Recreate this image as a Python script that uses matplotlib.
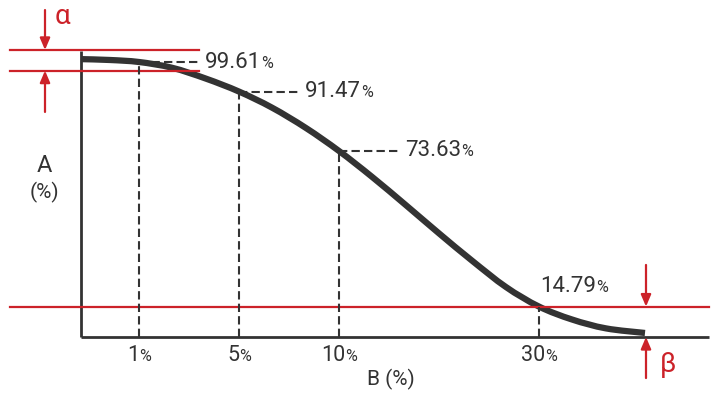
import numpy as np
import matplotlib
matplotlib.use('Agg')
import matplotlib.pyplot as plt
from matplotlib.path import Path
from matplotlib.patches import PathPatch
from matplotlib.offsetbox import TextArea, HPacker, AnnotationBbox

plt.rcParams['font.family'] = ['Roboto', 'DejaVu Sans']
plt.rcParams['lines.scale_dashes'] = False

DARK = '#333333'
RED = '#cc2229'

# x is the category position (1%, 5%, 10%, -, 30%), y is schematic height of A
tick_pos = [1, 2, 3, 5]
tick_labels = ['1', '5', '10', '30']

curve_x = [0.42, 0.71, 1.0, 1.33, 1.67, 2.0, 2.33, 2.67, 3.0, 3.33, 3.67,
           4.0, 4.33, 4.67, 5.0, 5.33, 5.67, 6.06]
curve_y = [96.8, 96.5, 95.8, 93.8, 90.0, 85.5, 79.9, 72.8, 64.8, 55.8, 45.9,
           36.1, 26.6, 17.4, 10.6, 6.1, 3.0, 1.4]

point_pos = [1, 2, 3]
point_y = [95.8, 85.5, 64.8]
point_labels = ['99.61', '91.47', '73.63']

beta_pos = 5
beta_y = 10.6
beta_label = '14.79'

alpha_lines = [100.0, 92.8]

x_left, x_right = 0.42, 6.7
y_top = 99.5


def pct_box(num, size, small, color=DARK):
    parts = [TextArea(num, textprops=dict(size=size, color=color)),
             TextArea('%', textprops=dict(size=small, color=color))]
    return HPacker(children=parts, align='baseline', pad=0, sep=0)


def put(ax, box, x, y, align):
    ab = AnnotationBbox(box, (x, y), xycoords='data', box_alignment=align,
                        frameon=False, pad=0, annotation_clip=False)
    ax.add_artist(ab)


def smooth_path(xs, ys):
    # catmull-rom through the read points, drawn as bezier segments
    pts = np.column_stack([xs, ys])
    verts = [pts[0]]
    codes = [Path.MOVETO]
    for i in range(len(pts) - 1):
        p0 = pts[max(i - 1, 0)]
        p1 = pts[i]
        p2 = pts[i + 1]
        p3 = pts[min(i + 2, len(pts) - 1)]
        verts += [p1 + (p2 - p0) / 6, p2 - (p3 - p1) / 6, p2]
        codes += [Path.CURVE4] * 3
    return Path(verts, codes)


fig = plt.figure(figsize=(7.2, 4), dpi=100)
ax = fig.add_axes([0, 0, 1, 1])
ax.set_xlim(-0.39, 6.81)
ax.set_ylim(-21.95, 117.4)
ax.axis('off')

# axes lines
ax.plot([x_left, x_left], [0, y_top], color=DARK, lw=2, solid_capstyle='butt')
ax.plot([x_left, x_right], [0, 0], color=DARK, lw=2, solid_capstyle='butt')

# red reference lines
for yl in alpha_lines:
    ax.plot([-0.29, 1.6], [yl, yl], color=RED, lw=1.6)
ax.plot([-0.29, x_right], [beta_y, beta_y], color=RED, lw=1.6)

# dashed guides
for xp, yp, lab in zip(point_pos, point_y, point_labels):
    ax.plot([xp, xp], [0, yp], color=DARK, lw=1.5, dashes=(6, 3))
    ax.plot([xp, xp + 0.6], [yp, yp], color=DARK, lw=1.5, dashes=(6, 3))
    put(ax, pct_box(lab, 16, 11.5), xp + 0.66, yp, (0, 0.5))
ax.plot([beta_pos, beta_pos], [0, beta_y], color=DARK, lw=1.5, dashes=(6, 3))
put(ax, pct_box(beta_label, 16, 11.5), beta_pos + 0.01, 17.6, (0, 0.5))

# curve
ax.add_patch(PathPatch(smooth_path(curve_x, curve_y), facecolor='none',
                       edgecolor=DARK, lw=4.5, capstyle='butt'))

# tick labels
for xp, lab in zip(tick_pos, tick_labels):
    put(ax, pct_box(lab, 15.5, 11.5), xp, -6.6, (0.5, 0.5))

ax.text(3.52, -14.8, 'B (%)', size=15, color=DARK, ha='center', va='center')
ax.text(0.05, 59.6, 'A', size=17, color=DARK, ha='center', va='center')
ax.text(0.05, 50.2, '(%)', size=15, color=DARK, ha='center', va='center')

# alpha / beta arrows
arw = dict(arrowstyle='-|>,head_length=0.7,head_width=0.3', color=RED, lw=1.6,
           shrinkA=0, shrinkB=0)
ax.annotate('', xy=(0.06, alpha_lines[0]), xytext=(0.06, 113.9), arrowprops=arw)
ax.annotate('', xy=(0.06, alpha_lines[1]), xytext=(0.06, 78.4), arrowprops=arw)
ax.annotate('', xy=(6.07, beta_y), xytext=(6.07, 25.1), arrowprops=arw)
ax.annotate('', xy=(6.07, 0), xytext=(6.07, -14.3), arrowprops=arw)
ax.text(0.16, 111.5, 'α', size=20, color=RED, ha='left', va='center')
ax.text(6.21, -9.5, 'β', size=20, color=RED, ha='left', va='center')

fig.savefig('out.png', dpi=100)
